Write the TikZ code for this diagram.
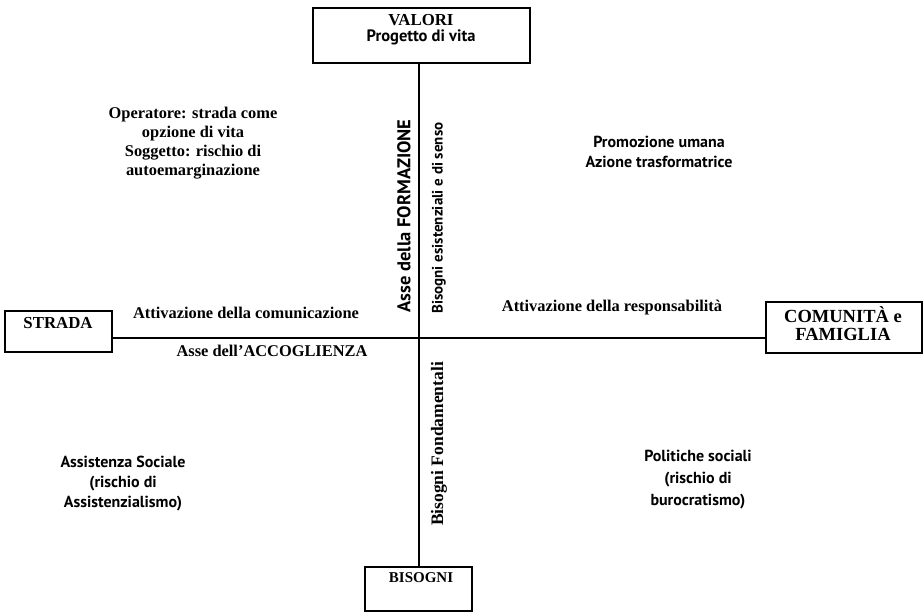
\documentclass[tikz,border=0pt]{standalone}
\usepackage{fontspec}
\setmainfont{Liberation Serif}
\newfontfamily\optsans{PT Sans}
\begin{document}
\begin{tikzpicture}[x=1pt,y=-1pt,
  box/.style={draw, line width=1.2pt, inner sep=0pt},
  axis/.style={line width=1.2pt},
  serifb/.style={font=\bfseries\fontsize{16.4}{19}\selectfont, align=center, inner sep=0pt},
  sansb/.style={font=\optsans\bfseries\fontsize{16}{20}\selectfont, align=center, inner sep=0pt}]
\useasboundingbox (0,0) rectangle (923,611);
% boxes
\node[box, minimum width=217pt, minimum height=55pt] (valori) at (421.5,35.5) {};
\node[box, minimum width=107pt, minimum height=41pt] (strada) at (58.5,331.5) {};
\node[box, minimum width=156pt, minimum height=51pt] (comunita) at (844,327.5) {};
\node[box, minimum width=107pt, minimum height=44pt] (bisogni) at (418.5,589) {};
\coordinate (O) at (419,338);
% axes
\draw[axis] (valori.south -| O) -- (bisogni.north -| O);
\draw[axis] (strada.east |- O) -- (O -| comunita.west);
% box texts
\node[serifb, font=\bfseries\fontsize{16.8}{16}\selectfont] (tval) at (421,30) {VALORI\\{\optsans\fontsize{16.5}{16}\selectfont Progetto di vita}};
\node[serifb, font=\bfseries\fontsize{16.8}{17}\selectfont] (tstr) at (58,323) {STRADA};
\node[serifb, font=\bfseries\fontsize{18.5}{18}\selectfont] (tcom) at (843,324) {COMUNITÀ e\\FAMIGLIA};
\node[serifb, font=\bfseries\fontsize{15}{15}\selectfont] (tbis) at (421,578) {BISOGNI};
% axis labels
\node[serifb] (comunic) at (246,313) {Attivazione della comunicazione};
\node[serifb] (accogl) at (272,351) {Asse dell’ACCOGLIENZA};
\node[serifb] (respons) at (612,308) {Attivazione della responsabilità};
\node[sansb, font=\optsans\bfseries\fontsize{18.5}{18}\selectfont, rotate=90] (formaz) at (404,216) {Asse della FORMAZIONE};
\node[sansb, font=\optsans\bfseries\fontsize{15}{18}\selectfont, rotate=90] (esist) at (439,218) {Bisogni esistenziali e di senso};
\node[serifb, font=\bfseries\fontsize{17.5}{18}\selectfont, rotate=90] (fondam) at (439,444) {Bisogni Fondamentali};
% quadrant texts
\node[serifb] (oper) at (193,143.5) {Operatore: strada come\\opzione di vita\\Soggetto: rischio di\\autoemarginazione};
\node[sansb] (promo) at (659,152) {Promozione umana\\Azione trasformatrice};
\node[sansb] (assist) at (123,484) {Assistenza Sociale\\(rischio di\\Assistenzialismo)};
\node[sansb, font=\optsans\bfseries\fontsize{16}{22}\selectfont] (polit) at (698,480) {Politiche sociali\\(rischio di\\burocratismo)};
\end{tikzpicture}
\end{document}
